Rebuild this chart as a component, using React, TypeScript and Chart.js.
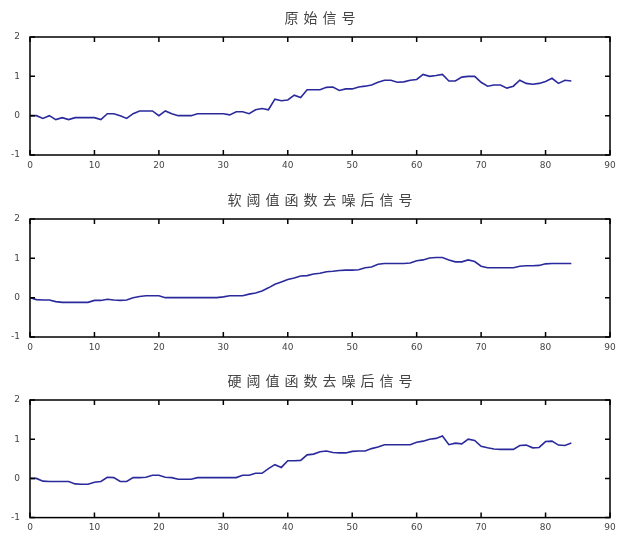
import { useEffect, useRef } from 'react';
import { Chart, registerables } from 'chart.js';

Chart.register(...registerables);

const titles = ['原始信号', '软阈值函数去噪后信号', '硬阈值函数去噪后信号'];

const original = [
  0, 0, -0.07, 0, -0.1, -0.05, -0.1, -0.05, -0.05, -0.05,
  -0.05, -0.1, 0.05, 0.05, 0, -0.07, 0.05, 0.12, 0.12, 0.12,
  0, 0.12, 0.05, 0, 0, 0, 0.05, 0.05, 0.05, 0.05,
  0.05, 0.02, 0.1, 0.1, 0.05, 0.15, 0.18, 0.15, 0.42, 0.38,
  0.4, 0.52, 0.46, 0.66, 0.66, 0.66, 0.72, 0.73, 0.64, 0.68,
  0.68, 0.73, 0.75, 0.78, 0.85, 0.9, 0.9, 0.85, 0.86, 0.9,
  0.92, 1.05, 1.0, 1.02, 1.05, 0.88, 0.88, 0.98, 1.0, 1.0,
  0.85, 0.75, 0.78, 0.78, 0.7, 0.75, 0.9, 0.82, 0.8, 0.82,
  0.87, 0.95, 0.82, 0.9, 0.88,
];

const softDenoised = [
  0, -0.05, -0.06, -0.06, -0.1, -0.12, -0.12, -0.12, -0.12, -0.12,
  -0.07, -0.07, -0.04, -0.06, -0.07, -0.06, 0, 0.03, 0.05, 0.05,
  0.05, 0, 0, 0, 0, 0, 0, 0, 0, 0,
  0.02, 0.05, 0.05, 0.05, 0.09, 0.12, 0.17, 0.25, 0.34, 0.4,
  0.46, 0.5, 0.55, 0.56, 0.6, 0.62, 0.66, 0.67, 0.69, 0.7,
  0.7, 0.71, 0.76, 0.78, 0.85, 0.87, 0.87, 0.87, 0.87, 0.88,
  0.94, 0.96, 1.01, 1.02, 1.02, 0.96, 0.91, 0.91, 0.96, 0.92,
  0.8, 0.76, 0.76, 0.76, 0.76, 0.76, 0.8, 0.81, 0.81, 0.82,
  0.86, 0.87, 0.87, 0.87, 0.87,
];

const hardDenoised = [
  0, 0, -0.07, -0.08, -0.08, -0.08, -0.08, -0.14, -0.15, -0.15,
  -0.1, -0.08, 0.03, 0.02, -0.08, -0.08, 0.02, 0.02, 0.03, 0.08,
  0.08, 0.03, 0.02, -0.02, -0.02, -0.02, 0.02, 0.02, 0.02, 0.02,
  0.02, 0.02, 0.02, 0.08, 0.08, 0.13, 0.13, 0.25, 0.35, 0.28,
  0.45, 0.45, 0.46, 0.6, 0.62, 0.68, 0.7, 0.66, 0.65, 0.65,
  0.69, 0.7, 0.7, 0.76, 0.8, 0.86, 0.86, 0.86, 0.86, 0.86,
  0.92, 0.95, 1.0, 1.02, 1.08, 0.86, 0.9, 0.88, 1.0, 0.97,
  0.82, 0.78, 0.75, 0.74, 0.74, 0.74, 0.84, 0.85, 0.78, 0.79,
  0.94, 0.95, 0.85, 0.84, 0.9,
];

const xTickValues = [0, 10, 20, 30, 40, 50, 60, 70, 80, 90];
const yTickValues = [-1, 0, 1, 2];

const series = [original, softDenoised, hardDenoised];

const framePlugin = {
  id: 'matlabFrame',
  afterDraw(chart: any, _args: any, opts: any) {
    const { ctx, chartArea: a, scales } = chart;
    ctx.save();
    ctx.strokeStyle = '#000';
    ctx.lineWidth = 1.5;
    ctx.strokeRect(a.left, a.top, a.right - a.left, a.bottom - a.top);
    const L = 5;
    ctx.beginPath();
    for (const v of xTickValues) {
      const px = scales.x.getPixelForValue(v);
      ctx.moveTo(px, a.bottom);
      ctx.lineTo(px, a.bottom - L);
      ctx.moveTo(px, a.top);
      ctx.lineTo(px, a.top + L);
    }
    for (const v of yTickValues) {
      const py = scales.y.getPixelForValue(v);
      ctx.moveTo(a.left, py);
      ctx.lineTo(a.left + L, py);
      ctx.moveTo(a.right, py);
      ctx.lineTo(a.right - L, py);
    }
    ctx.stroke();
    ctx.font = '14px "Noto Sans CJK SC"';
    ctx.fillStyle = '#444';
    ctx.textAlign = 'center';
    ctx.textBaseline = 'middle';
    (ctx as any).letterSpacing = '5px';
    ctx.fillText(opts.title, (a.left + a.right) / 2 + 2.5, 18);
    ctx.restore();
  },
};

const tickFont = { family: '"DejaVu Sans"', size: 9 };

function Panel({ index, top, height, axisHeight }: { index: number; top: number; height: number; axisHeight: number }) {
  const ref = useRef<HTMLCanvasElement>(null);
  useEffect(() => {
    if (!ref.current) return;
    const values = series[index];
    const chart = new Chart(ref.current, {
      type: 'line',
      data: {
        datasets: [
          {
            data: values.map((v, i) => ({ x: i, y: v })),
            borderColor: '#2a2a9c',
            borderWidth: 1.6,
            pointRadius: 0,
            tension: 0,
            fill: false,
          },
        ],
      },
      options: {
        animation: false,
        responsive: false,
        maintainAspectRatio: false,
        layout: { padding: { top: 37, right: 11, bottom: 0, left: 0 } },
        plugins: {
          legend: { display: false },
          tooltip: { enabled: false },
          title: { display: false },
          matlabFrame: { title: titles[index] },
        } as any,
        scales: {
          x: {
            type: 'linear',
            min: 0,
            max: 90,
            ticks: { stepSize: 10, padding: 5, font: tickFont, color: '#444', maxRotation: 0, autoSkip: false },
            grid: { display: false, drawTicks: false },
            border: { display: false },
            afterFit(s: any) {
              s.height = axisHeight;
            },
          },
          y: {
            type: 'linear',
            min: -1,
            max: 2,
            ticks: { stepSize: 1, padding: 10, font: tickFont, color: '#444' },
            grid: { display: false, drawTicks: false },
            border: { display: false },
            afterFit(s: any) {
              s.width = 30;
            },
          },
        },
      },
      plugins: [framePlugin as any],
    });
    return () => chart.destroy();
  }, [index, axisHeight]);
  return (
    <canvas
      ref={ref}
      width={621}
      height={height}
      style={{ position: 'absolute', left: 0, top, width: 621, height }}
    />
  );
}

export default function App() {
  return (
    <div style={{ position: 'absolute', left: 0, top: 0, width: 621, height: 533, background: '#fff' }}>
      <Panel index={0} top={0} height={179} axisHeight={24} />
      <Panel index={1} top={182} height={179} axisHeight={24} />
      <Panel index={2} top={363} height={170} axisHeight={15} />
    </div>
  );
}
